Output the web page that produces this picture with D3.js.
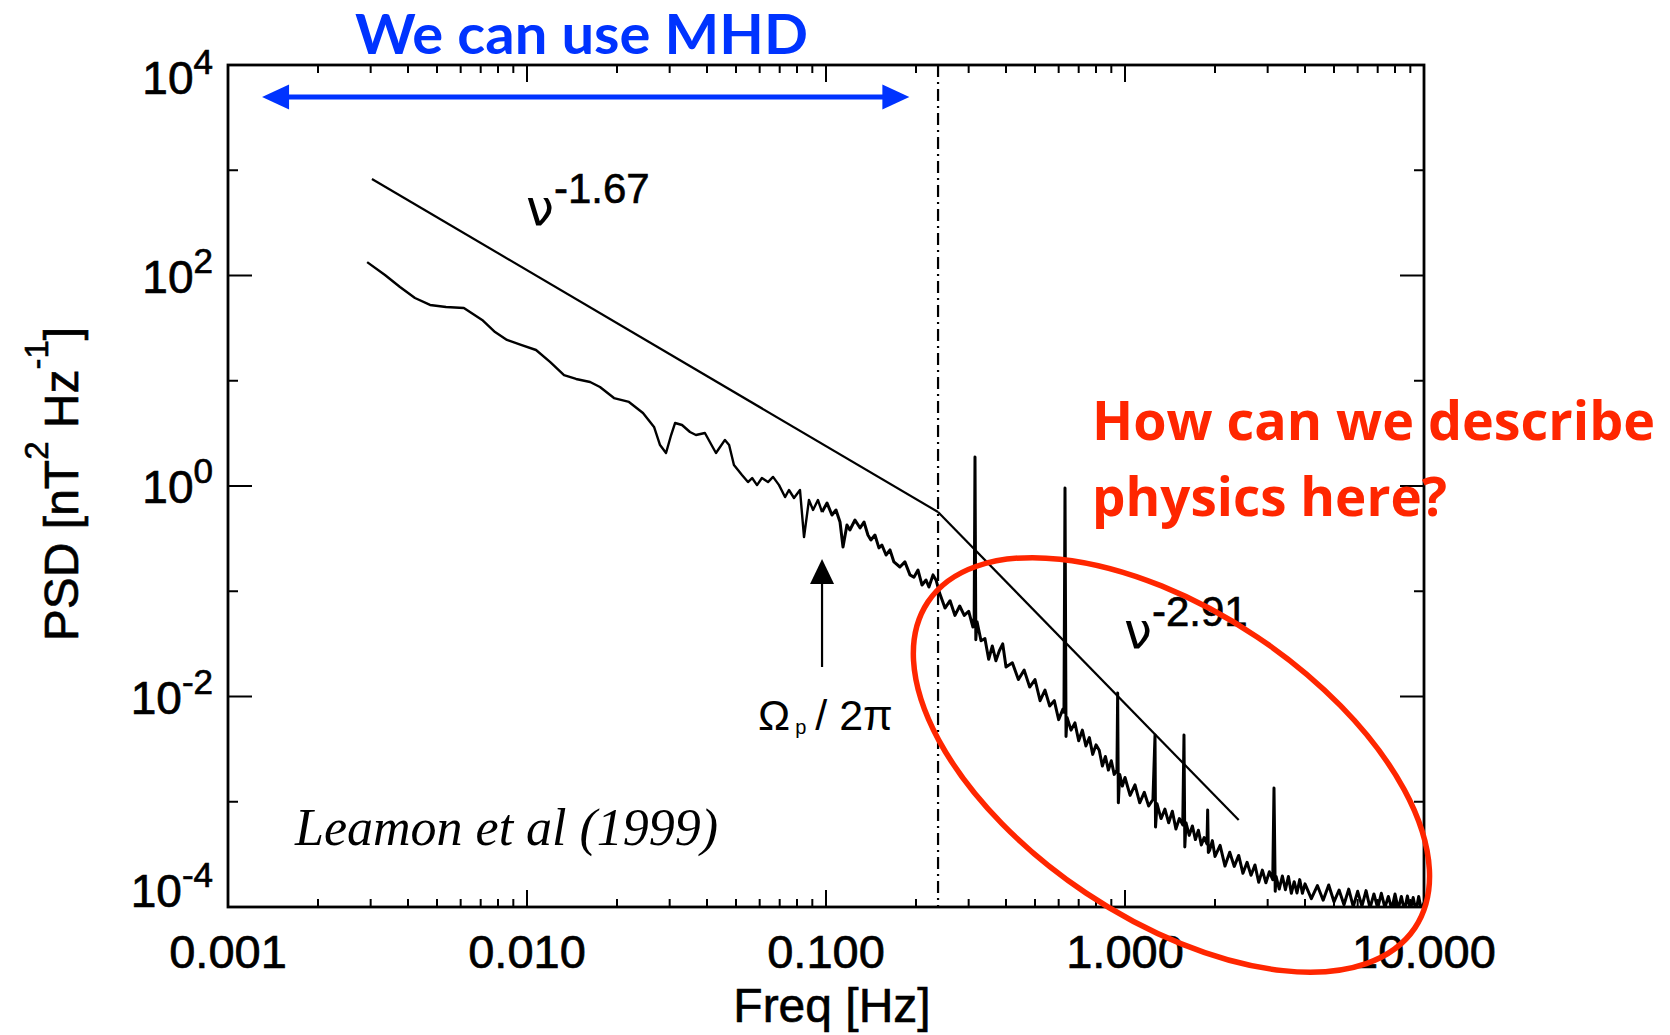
<!DOCTYPE html>
<html><head><meta charset="utf-8">
<script src="https://cdn.jsdelivr.net/npm/d3@7"></script>
<style>html,body{margin:0;padding:0;background:#fff;} svg{display:block;}</style>
</head><body>
<svg id="chart" width="1670" height="1035"></svg>
<script>
// ---------------- data ----------------
const xTickValues = [0.001, 0.01, 0.1, 1, 10];
const xTickLabels = ["0.001", "0.010", "0.100", "1.000", "10.000"];
const yTickExponents = ["4", "2", "0", "-2", "-4"];

const spectrumFreq = [
0.00292,0.00335,0.00376,0.00422,0.00474,0.00536,0.00615,0.00708,0.00782,0.00857,
0.00955,0.01072,0.01194,0.01330,0.01459,0.01626,0.01754,0.01954,0.02193,0.02443,
0.02660,0.02786,0.02917,0.03034,0.03129,0.03300,0.03508,0.03673,0.03936,0.04159,
0.04286,0.04592,0.04742,0.04922,0.05236,0.05483,0.05662,0.05879,0.06105,0.06397,
0.06651,0.06966,0.07295,0.07518,0.07816,0.08185,0.08443,0.08770,0.09051,0.09397,
0.09700,0.1008,0.1047,0.1080,0.1114,0.1140,0.1175,0.1202,0.1250,0.1300,
0.1340,0.1381,0.1413,0.1458,0.1503,0.1538,0.1588,0.1637,0.1687,0.1767,
0.1836,0.1909,0.1968,0.2031,0.2095,0.2160,0.2209,0.2280,0.2333,
0.24,0.25,0.26,0.27,0.28,0.29,0.30,0.31,0.313,0.315,0.317,
0.32,0.33,0.34,0.35,0.36,0.37,0.38,0.39,0.40,0.42,0.44,0.46,0.48,0.50,
0.52,0.54,0.56,0.58,0.60,0.62,0.625,0.63,0.635,0.64,0.66,0.68,0.70,0.72,
0.74,0.76,0.78,0.80,0.82,0.84,0.86,0.88,0.90,0.92,0.94,0.945,0.95,0.96,
0.98,1.00,1.04,1.08,1.12,1.16,1.20,1.24,1.26,1.265,1.28,1.32,1.36,1.40,
1.44,1.48,1.52,1.56,1.575,1.585,1.60,1.64,1.68,1.72,1.76,1.80,1.84,1.88,
1.89,1.90,1.92,1.96,2.00,2.08,2.16,2.24,2.32,2.40,2.48,2.56,2.64,2.72,
2.80,2.88,2.96,3.04,3.12,3.15,3.18,3.20,3.28,3.36,3.44,3.52,3.60,3.68,
3.76,3.84,3.92,4.0,4.2,4.4,4.6,4.8,5.0,5.2,5.4,5.6,5.8,6.0,
6.2,6.4,6.6,6.8,7.0,7.2,7.4,7.6,7.8,8.0,8.2,8.4,8.6,8.8,
9.0,9.2,9.4,9.6,9.8,10.0
];
const spectrumPsd = [
134,101,77.8,61.1,52.5,50.2,49.1,37.8,29.0,24.4,
21.9,19.6,15.1,11.3,10.4,9.73,8.72,6.85,6.29,4.94,
3.64,2.45,2.06,3.05,3.97,3.80,3.26,3.05,3.19,2.40,
2.06,2.74,2.45,1.58,1.27,1.09,1.19,1.02,1.19,1.09,
1.22,1.02,0.785,0.916,0.769,0.916,0.327,0.736,0.592,0.736,
0.566,0.689,0.530,0.592,0.455,0.263,0.426,0.382,0.475,0.399,
0.455,0.342,0.307,0.342,0.258,0.275,0.221,0.247,0.190,0.170,
0.190,0.143,0.136,0.159,0.1146,0.128,0.1097,0.143,0.128,
0.0955,0.0692,0.0813,0.0589,0.0724,0.0589,0.0646,0.0457,0.0562,1.89,0.0347,
0.0513,0.0339,0.0355,0.0226,0.0302,0.0219,0.0272,0.0316,0.0191,0.0209,0.0145,0.0178,0.0123,0.0145,
0.00912,0.0115,0.00813,0.00912,0.00603,0.00759,0.00708,0.957,0.00417,0.00631,0.00479,0.00562,0.00380,0.00479,
0.00339,0.00407,0.00282,0.00347,0.00309,0.00219,0.00269,0.00200,0.00245,0.00182,0.00200,0.0108,0.000977,0.00182,
0.00141,0.00170,0.00115,0.00145,0.000977,0.00123,0.000912,0.00105,0.00431,0.000575,0.000955,0.000692,0.000851,0.000631,
0.000813,0.000550,0.000692,0.000603,0.00431,0.000372,0.000631,0.000479,0.000589,0.000437,0.000537,0.000389,0.000457,0.000398,
0.000835,0.000330,0.000347,0.000427,0.000302,0.000385,0.000245,0.000331,0.000243,0.000309,0.000209,0.000266,0.000200,0.000251,
0.000172,0.000224,0.000170,0.000216,0.000182,0.00135,0.000141,0.000195,0.000148,0.000197,0.000146,0.000195,0.000135,0.000174,
0.000136,0.000182,0.000135,0.000166,0.000120,0.000160,0.000116,0.000162,0.000112,0.000145,0.000105,0.000148,0.000101,0.000141,
0.000102,0.000143,0.0000977,0.000133,0.0000977,0.000135,0.0000989,0.000126,0.0000955,0.000133,0.0000955,0.000126,0.0000923,0.000127,
0.0000933,0.000123,0.0000912,0.000126,0.0000933,0.000110
];

const fitLowFreq = [0.00303, 0.237];
const fitLowPsd = [826, 0.566];
const fitHighFreq = [0.237, 2.40];
const fitHighPsd = [0.566, 0.000670];
const breakFreq = 0.237;
const cyclotronFreq = 0.097;
const mhdRangeFreq = [0.0013, 0.19];
const circledCenter = [1.43, 0.00224];

// ---------------- setup ----------------
const svg = d3.select("#chart");
const SANS = "'Liberation Sans', Arial, Helvetica, sans-serif";
const x = d3.scaleLog().domain([1e-3, 10]).range([228, 1424]);
const y = d3.scaleLog().domain([1e-4, 1e4]).range([907, 65]);
const [X0, X1] = x.range();
const [Y0, Y1] = y.range();

svg.append("rect").attr("width", 1670).attr("height", 1035).attr("fill", "#fff");
svg.append("defs").append("clipPath").attr("id", "plotclip")
  .append("rect").attr("x", X0).attr("y", Y1).attr("width", X1 - X0).attr("height", Y0 - Y1);

// ---------------- ticks ----------------
const tickG = svg.append("g").attr("stroke", "#000").attr("stroke-width", 2);
x.ticks().forEach(v => {
  const lv = Math.log10(v);
  const major = Math.abs(lv - Math.round(lv)) < 1e-9;
  const len = major ? 17 : 8;
  tickG.append("line").attr("x1", x(v)).attr("x2", x(v)).attr("y1", Y0).attr("y2", Y0 - len);
  tickG.append("line").attr("x1", x(v)).attr("x2", x(v)).attr("y1", Y1).attr("y2", Y1 + len);
});
d3.range(-4, 5).forEach(e => {
  const len = (e % 2 === 0) ? 24 : 10;
  const yy = y(Math.pow(10, e));
  tickG.append("line").attr("x1", X0).attr("x2", X0 + len).attr("y1", yy).attr("y2", yy);
  tickG.append("line").attr("x1", X1).attr("x2", X1 - len).attr("y1", yy).attr("y2", yy);
});

// frame
svg.append("rect").attr("x", X0).attr("y", Y1).attr("width", X1 - X0).attr("height", Y0 - Y1)
  .attr("fill", "none").attr("stroke", "#000").attr("stroke-width", 2.8);

// tick labels
xTickValues.forEach((v, i) => {
  svg.append("text").attr("x", x(v)).attr("y", 968).attr("text-anchor", "middle")
    .style("font-family", SANS).style("font-size", "47px").attr("fill", "#000")
    .attr("stroke", "#000").attr("stroke-width", 0.7)
    .text(xTickLabels[i]);
});
yTickExponents.forEach(e => {
  let cy = y(Math.pow(10, +e));
  cy = Math.max(77, Math.min(890, cy));
  const t = svg.append("text").attr("x", 213).attr("y", cy + 17).attr("text-anchor", "end")
    .style("font-family", SANS).style("font-size", "46px").attr("fill", "#000")
    .attr("stroke", "#000").attr("stroke-width", 0.7);
  t.append("tspan").text("10");
  t.append("tspan").attr("dy", -20).style("font-size", "35px").text(e);
});

// axis titles
svg.append("text").attr("x", 832).attr("y", 1022).attr("text-anchor", "middle")
  .style("font-family", SANS).style("font-size", "48px")
  .attr("stroke", "#000").attr("stroke-width", 0.6).text("Freq [Hz]");
const yl = svg.append("text").attr("transform", "translate(78,484) rotate(-90)")
  .attr("text-anchor", "middle").style("font-family", SANS).style("font-size", "48px")
  .attr("stroke", "#000").attr("stroke-width", 0.6);
yl.append("tspan").text("PSD [nT");
yl.append("tspan").attr("dy", -30).style("font-size", "33px").text("2");
yl.append("tspan").attr("dy", 30).text(" Hz");
yl.append("tspan").attr("dy", -30).style("font-size", "33px").text("-1");
yl.append("tspan").attr("dy", 30).text("]");

// ---------------- plot content ----------------
const plot = svg.append("g").attr("clip-path", "url(#plotclip)");

// break line (dash-dot)
plot.append("line").attr("x1", x(breakFreq)).attr("x2", x(breakFreq)).attr("y1", Y1).attr("y2", Y0)
  .attr("stroke", "#000").attr("stroke-width", 2.2).attr("stroke-dasharray", "12,5,2,5");

const lineGen = d3.line().x(d => x(d[0])).y(d => y(d[1]));
const spectrum = spectrumFreq.map((f, i) => [f, spectrumPsd[i]]);
const smoothPart = spectrum.filter(d => d[0] <= 0.1);
const noisyPart = spectrum.filter(d => d[0] >= 0.0970);
plot.append("path").datum(smoothPart).attr("d", lineGen)
  .attr("fill", "none").attr("stroke", "#000").attr("stroke-width", 2.4).attr("stroke-linejoin", "round");
plot.append("path").datum(noisyPart).attr("d", lineGen)
  .attr("fill", "none").attr("stroke", "#000").attr("stroke-width", 3).attr("stroke-linejoin", "round");

plot.append("path").datum(fitLowFreq.map((f, i) => [f, fitLowPsd[i]])).attr("d", lineGen)
  .attr("fill", "none").attr("stroke", "#000").attr("stroke-width", 2.2);
plot.append("path").datum(fitHighFreq.map((f, i) => [f, fitHighPsd[i]])).attr("d", lineGen)
  .attr("fill", "none").attr("stroke", "#000").attr("stroke-width", 2.2);

// fit labels
function powerLabel(px, py, exp) {
  const t = svg.append("text").attr("x", px).attr("y", py).attr("fill", "#000");
  t.append("tspan").style("font-family", "'DejaVu Sans', sans-serif").style("font-size", "50px").text("ν");
  t.append("tspan").attr("dy", -22).attr("dx", 0).style("font-family", SANS).style("font-size", "42px")
    .attr("stroke", "#000").attr("stroke-width", 0.6).text(exp);
}
powerLabel(526, 225, "-1.67");
powerLabel(1124, 648, "-2.91");

// cyclotron arrow
const cx = x(cyclotronFreq);
svg.append("line").attr("x1", cx).attr("x2", cx).attr("y1", 667).attr("y2", 580)
  .attr("stroke", "#000").attr("stroke-width", 2.2);
svg.append("path").attr("d", `M${cx},559 L${cx - 12},584 L${cx + 12},584 Z`).attr("fill", "#000");
const om = svg.append("text").attr("x", 758).attr("y", 730).style("font-family", SANS).style("font-size", "43px");
om.append("tspan").text("Ω");
om.append("tspan").attr("dy", 4).attr("dx", 5).style("font-size", "20px").text("p");
om.append("tspan").attr("dy", -4).attr("dx", 9).text("/ 2π");

// citation
svg.append("text").attr("x", 295).attr("y", 845)
  .style("font-family", "'Liberation Serif', 'Times New Roman', serif").style("font-style", "italic")
  .style("font-size", "52px").text("Leamon et al (1999)");

// ---------------- overlay annotations ----------------
const BLUE = "#0033ff", RED = "#ff2600";
const AY = 97;
const ax0 = x(mhdRangeFreq[0]), ax1 = x(mhdRangeFreq[1]);
svg.append("line").attr("x1", ax0 + 20).attr("x2", ax1 - 20).attr("y1", AY).attr("y2", AY)
  .attr("stroke", BLUE).attr("stroke-width", 5);
svg.append("path").attr("d", `M${ax0},${AY} L${ax0 + 27},${AY - 12.5} L${ax0 + 27},${AY + 12.5} Z`).attr("fill", BLUE);
svg.append("path").attr("d", `M${ax1},${AY} L${ax1 - 27},${AY - 12.5} L${ax1 - 27},${AY + 12.5} Z`).attr("fill", BLUE);

svg.append("text").attr("x", 355).attr("y", 54).attr("fill", BLUE)
  .style("font-family", "Lato, 'Open Sans', Calibri, sans-serif").style("font-weight", "bold").style("font-size", "55px")
  .attr("textLength", 453).attr("lengthAdjust", "spacingAndGlyphs").text("We can use MHD");

svg.append("text").attr("x", 1092).attr("y", 440).attr("fill", RED)
  .style("font-family", "'Open Sans', Calibri, sans-serif").style("font-weight", "bold").style("font-size", "54px")
  .attr("textLength", 563).attr("lengthAdjust", "spacingAndGlyphs").text("How can we describe");
svg.append("text").attr("x", 1092).attr("y", 516).attr("fill", RED)
  .style("font-family", "'Open Sans', Calibri, sans-serif").style("font-weight", "bold").style("font-size", "54px")
  .attr("textLength", 355).attr("lengthAdjust", "spacingAndGlyphs").text("physics here?");

const ecx = x(circledCenter[0]), ecy = y(circledCenter[1]);
svg.append("ellipse").attr("cx", 0).attr("cy", 0).attr("rx", 293).attr("ry", 154)
  .attr("transform", `translate(${ecx},${ecy}) rotate(33.8)`)
  .attr("fill", "none").attr("stroke", RED).attr("stroke-width", 5.5);
</script>
</body></html>
